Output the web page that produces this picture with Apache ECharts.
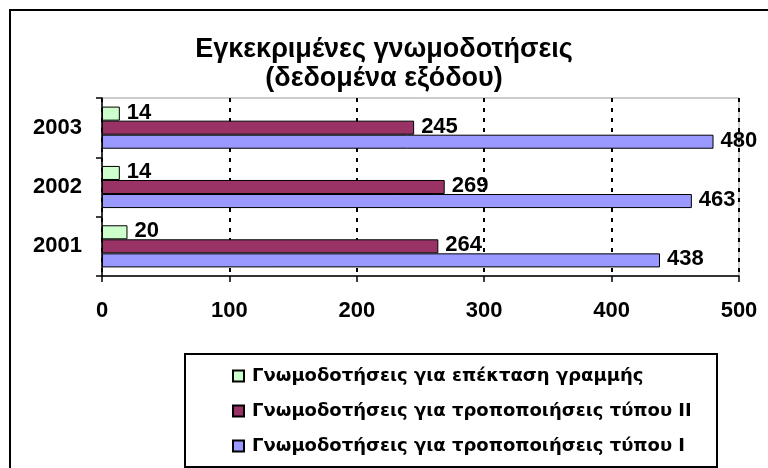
<!DOCTYPE html>
<html>
<head>
<meta charset="utf-8">
<script src="https://cdn.jsdelivr.net/npm/echarts@6/dist/echarts.min.js"></script>
<style>
  html, body { margin: 0; padding: 0; background: #fff; }
  #chart { width: 768px; height: 468px; }
</style>
</head>
<body>
<div id="chart"></div>
<script>
// Approved opinions per year, by type
const years = ['2001', '2002', '2003'];
const typeI = [438, 463, 480];
const typeII = [264, 269, 245];
const lineExtension = [20, 14, 14];

const nameTypeI = 'Γνωμοδοτήσεις για τροποποιήσεις τύπου I';
const nameTypeII = 'Γνωμοδοτήσεις για τροποποιήσεις τύπου II';
const nameExtension = 'Γνωμοδοτήσεις για επέκταση γραμμής';

const xTicks = [0, 100, 200, 300, 400, 500];

const FONT = '"Liberation Sans", Arial, sans-serif';
const LEGEND_FONT = '"DejaVu Sans", "Liberation Sans", sans-serif';

function barSeries(name, data, color) {
  return {
    name: name,
    type: 'bar',
    data: data,
    barGap: '0%',
    barCategoryGap: '29%',
    itemStyle: { color: color, borderColor: '#000', borderWidth: 1 },
    label: {
      show: true,
      position: 'right',
      distance: 7,
      offset: [0, -1],
      color: '#000',
      fontFamily: FONT,
      fontWeight: 'bold',
      fontSize: 22
    },
    emphasis: { disabled: true }
  };
}

const chart = echarts.init(document.getElementById('chart'), null, { renderer: 'canvas' });

chart.setOption({
  animation: false,
  backgroundColor: '#fff',
  title: {
    text: 'Εγκεκριμένες γνωμοδοτήσεις\n(δεδομένα εξόδου)',
    left: 'center',
    top: 30,
    textStyle: {
      fontFamily: FONT,
      fontWeight: 'bold',
      fontSize: 27,
      lineHeight: 29,
      color: '#000'
    }
  },
  graphic: [
    {
      type: 'rect',
      shape: { x: 10, y: 10, width: 800, height: 500 },
      style: { fill: 'none', stroke: '#000', lineWidth: 2 },
      z: 100
    },
    {
      type: 'rect',
      shape: { x: 185, y: 354, width: 532, height: 113 },
      style: { fill: 'none', stroke: '#000', lineWidth: 2 },
      z: 100
    }
  ],
  legend: {
    orient: 'vertical',
    left: 227,
    top: 362,
    itemWidth: 11,
    itemHeight: 11,
    itemGap: 17,
    icon: 'rect',
    data: [nameExtension, nameTypeII, nameTypeI],
    textStyle: {
      fontFamily: LEGEND_FONT,
      fontWeight: 'bold',
      fontSize: 18,
      color: '#000',
      padding: [0, 0, 0, 3]
    },
    selectedMode: false
  },
  grid: {
    left: 102,
    top: 98,
    right: 29,
    bottom: 192,
    show: true,
    borderColor: '#999',
    borderWidth: 1,
    backgroundColor: '#fff'
  },
  xAxis: {
    type: 'value',
    min: xTicks[0],
    max: xTicks[xTicks.length - 1],
    interval: 100,
    axisLine: { show: true, lineStyle: { color: '#000', width: 1.5 } },
    axisTick: { show: true, length: 6, lineStyle: { color: '#000', width: 1.5 } },
    axisLabel: {
      margin: 24,
      color: '#000',
      fontFamily: FONT,
      fontWeight: 'bold',
      fontSize: 22
    },
    splitLine: {
      show: true,
      lineStyle: { color: '#000', width: 2, type: [4, 6] }
    }
  },
  yAxis: {
    type: 'category',
    data: years,
    axisLine: { show: true, lineStyle: { color: '#000', width: 1.5 } },
    axisTick: { show: true, length: 6, interval: 0, lineStyle: { color: '#000', width: 1.5 } },
    axisLabel: {
      margin: 20,
      color: '#000',
      fontFamily: FONT,
      fontWeight: 'bold',
      fontSize: 22
    },
    splitLine: { show: false }
  },
  // series order places the first series at the top of each group
  series: [
    barSeries(nameExtension, lineExtension, '#CCFFCC'),
    barSeries(nameTypeII, typeII, '#993366'),
    barSeries(nameTypeI, typeI, '#9999FF')
  ]
});
</script>
</body>
</html>
